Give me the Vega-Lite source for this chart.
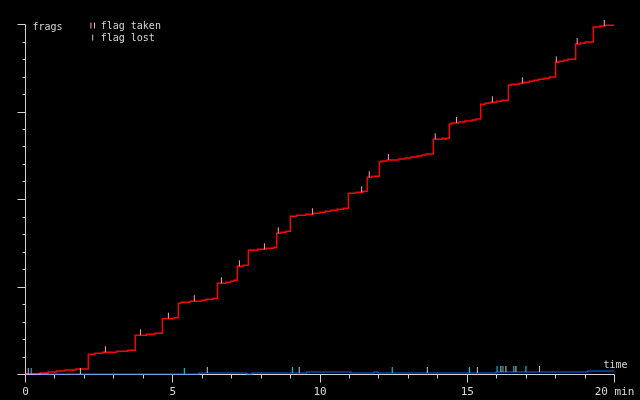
{
  "$schema": "https://vega.github.io/schema/vega-lite/v6.json",
  "width": 589,
  "height": 350,
  "autosize": {"type": "none"},
  "padding": {"left": 25, "top": 24, "right": 26, "bottom": 26},
  "background": "#000000",
  "config": {
    "view": {"stroke": null},
    "axis": {"grid": false, "domainColor": "#d0d0d0", "tickColor": "#d0d0d0", "labelColor": "#d8d8d8", "titleColor": "#d8d8d8", "labelFont": "DejaVu Sans Mono", "titleFont": "DejaVu Sans Mono", "titleFontWeight": "normal", "domainWidth": 1, "tickWidth": 1}
  },
  "datasets": {
    "red": [
      {"t": 0, "v": 0}, {"t": 0.509, "v": 1}, {"t": 0.781, "v": 2}, {"t": 1.076, "v": 3}, {"t": 1.358, "v": 4}, {"t": 1.732, "v": 5},
      {"t": 2.149, "v": 19.7}, {"t": 2.377, "v": 20.7}, {"t": 2.638, "v": 21.7}, {"t": 3.114, "v": 22.7}, {"t": 3.487, "v": 23.7},
      {"t": 3.745, "v": 38.7}, {"t": 4.132, "v": 39.7}, {"t": 4.414, "v": 40.7},
      {"t": 4.662, "v": 55.3}, {"t": 5.059, "v": 56.3},
      {"t": 5.205, "v": 70.7}, {"t": 5.297, "v": 71.7}, {"t": 5.603, "v": 72.7}, {"t": 6.0, "v": 73.7}, {"t": 6.146, "v": 74.7}, {"t": 6.394, "v": 75.7},
      {"t": 6.537, "v": 90.7}, {"t": 6.825, "v": 91.7}, {"t": 6.985, "v": 92.7}, {"t": 7.097, "v": 93.7},
      {"t": 7.209, "v": 107.7}, {"t": 7.413, "v": 108.7},
      {"t": 7.582, "v": 123.7}, {"t": 7.902, "v": 124.7}, {"t": 8.183, "v": 125.7}, {"t": 8.455, "v": 126.7},
      {"t": 8.547, "v": 140.7}, {"t": 8.693, "v": 141.7}, {"t": 8.862, "v": 142.7},
      {"t": 9.008, "v": 157.7}, {"t": 9.226, "v": 158.7}, {"t": 9.542, "v": 159.7}, {"t": 9.789, "v": 160.7}, {"t": 10.017, "v": 161.7}, {"t": 10.197, "v": 162.7}, {"t": 10.39, "v": 163.7}, {"t": 10.604, "v": 164.7}, {"t": 10.808, "v": 165.7},
      {"t": 10.978, "v": 180.7}, {"t": 11.239, "v": 181.7}, {"t": 11.477, "v": 182.7},
      {"t": 11.623, "v": 196.7}, {"t": 11.783, "v": 197.7},
      {"t": 12.031, "v": 212.3}, {"t": 12.122, "v": 213}, {"t": 12.302, "v": 214}, {"t": 12.689, "v": 215}, {"t": 12.903, "v": 216}, {"t": 13.107, "v": 217}, {"t": 13.311, "v": 218}, {"t": 13.481, "v": 219}, {"t": 13.616, "v": 220},
      {"t": 13.864, "v": 234.7}, {"t": 14.16, "v": 235.7}, {"t": 14.238, "v": 234.7}, {"t": 14.295, "v": 235.7},
      {"t": 14.407, "v": 250}, {"t": 14.499, "v": 251}, {"t": 14.737, "v": 252}, {"t": 14.941, "v": 253}, {"t": 15.178, "v": 254}, {"t": 15.314, "v": 255},
      {"t": 15.474, "v": 269.7}, {"t": 15.62, "v": 270.7}, {"t": 15.789, "v": 271.7}, {"t": 16.017, "v": 272.7}, {"t": 16.187, "v": 273.7},
      {"t": 16.411, "v": 288.7}, {"t": 16.503, "v": 289.7}, {"t": 16.774, "v": 290.7}, {"t": 16.954, "v": 291.7}, {"t": 17.124, "v": 292.7}, {"t": 17.284, "v": 293.7}, {"t": 17.43, "v": 294.7}, {"t": 17.623, "v": 295.7}, {"t": 17.803, "v": 297},
      {"t": 18.02, "v": 311.7}, {"t": 18.132, "v": 312.7}, {"t": 18.302, "v": 313.7}, {"t": 18.438, "v": 314.7},
      {"t": 18.699, "v": 330}, {"t": 18.869, "v": 331}, {"t": 19.025, "v": 332},
      {"t": 19.297, "v": 347}, {"t": 19.525, "v": 348}, {"t": 19.694, "v": 348.7}, {"t": 20, "v": 348.7}
    ],
    "blue": [
      {"t": 0, "v": 0}, {"t": 5.908, "v": 1}, {"t": 7.528, "v": 0}, {"t": 7.708, "v": 1}, {"t": 9.565, "v": 2},
      {"t": 11.07, "v": 1}, {"t": 11.851, "v": 2}, {"t": 11.986, "v": 1}, {"t": 15.993, "v": 2}, {"t": 19.107, "v": 3}, {"t": 20, "v": 3}
    ],
    "events": [
      {"t": 0.11, "v": 0, "kind": "red taken"},
      {"t": 2.73, "v": 21.7, "kind": "red taken"},
      {"t": 3.92, "v": 38.7, "kind": "red taken"},
      {"t": 4.87, "v": 55.3, "kind": "red taken"},
      {"t": 5.75, "v": 72.7, "kind": "red taken"},
      {"t": 6.67, "v": 90.7, "kind": "red taken"},
      {"t": 7.28, "v": 107.7, "kind": "red taken"},
      {"t": 8.13, "v": 124.7, "kind": "red taken"},
      {"t": 8.6, "v": 140.7, "kind": "red taken"},
      {"t": 9.76, "v": 159.7, "kind": "red taken"},
      {"t": 11.43, "v": 181.7, "kind": "red taken"},
      {"t": 11.69, "v": 196.7, "kind": "red taken"},
      {"t": 12.34, "v": 214, "kind": "red taken"},
      {"t": 13.93, "v": 234.7, "kind": "red taken"},
      {"t": 14.65, "v": 251, "kind": "red taken"},
      {"t": 15.87, "v": 271.7, "kind": "red taken"},
      {"t": 16.89, "v": 290.7, "kind": "red taken"},
      {"t": 18.04, "v": 311.7, "kind": "red taken"},
      {"t": 18.75, "v": 330, "kind": "red taken"},
      {"t": 19.67, "v": 348, "kind": "red taken"},
      {"t": 0.21, "v": 0, "kind": "blue taken"},
      {"t": 5.41, "v": 0, "kind": "blue taken"},
      {"t": 9.08, "v": 1, "kind": "blue taken"},
      {"t": 12.47, "v": 1, "kind": "blue taken"},
      {"t": 15.09, "v": 1, "kind": "blue taken"},
      {"t": 16.03, "v": 2, "kind": "blue taken"},
      {"t": 16.23, "v": 2, "kind": "blue taken"},
      {"t": 16.6, "v": 2, "kind": "blue taken"},
      {"t": 17.01, "v": 2, "kind": "blue taken"},
      {"t": 1.88, "v": 0, "kind": "flag lost"},
      {"t": 6.19, "v": 1, "kind": "flag lost"},
      {"t": 9.31, "v": 1, "kind": "flag lost"},
      {"t": 13.66, "v": 1, "kind": "flag lost"},
      {"t": 15.36, "v": 1, "kind": "flag lost"},
      {"t": 16.16, "v": 2, "kind": "flag lost"},
      {"t": 16.33, "v": 2, "kind": "flag lost"},
      {"t": 16.67, "v": 2, "kind": "flag lost"},
      {"t": 17.47, "v": 2, "kind": "flag lost"}
    ]
  },
  "encoding": {
    "x": {
      "field": "t", "type": "quantitative",
      "scale": {"domain": [0, 20], "nice": false},
      "axis": {
        "values": [0,1,2,3,4,5,6,7,8,9,10,11,12,13,14,15,16,17,18,19,20],
        "tickSize": {"condition": {"test": "datum.value % 5 === 0", "value": 8}, "value": 4},
        "labelExpr": "datum.value === 20 ? '20 min' : (datum.value % 5 === 0 ? datum.label : '')",
        "labelFontSize": 11, "labelPadding": 3, "labelFlush": false, "labelOverlap": false, "labelBaseline": "top",
        "title": "time", "titleFontSize": 10, "titleX": 602, "titleY": -7, "titleAlign": "right", "titleBaseline": "alphabetic", "titleAnchor": null
      }
    },
    "y": {
      "field": "v", "type": "quantitative",
      "scale": {"domain": [0, 350], "nice": false},
      "axis": {
        "values": [0,17.5,35,52.5,70,87.5,105,122.5,140,157.5,175,192.5,210,227.5,245,262.5,280,297.5,315,332.5,350],
        "tickSize": {"condition": {"test": "datum.value % 87.5 === 0", "value": 8}, "value": 3},
        "labels": false,
        "title": "frags", "titleFontSize": 10, "titleAngle": 0, "titleX": 7, "titleY": 5, "titleAlign": "left", "titleBaseline": "alphabetic", "titleAnchor": null
      }
    }
  },
  "layer": [
    {
      "data": {"name": "blue"},
      "mark": {"type": "line", "interpolate": "step-after", "color": "#1464ff", "strokeWidth": 1.2}
    },
    {
      "data": {"name": "red"},
      "mark": {"type": "line", "interpolate": "step-after", "color": "#ff0000", "strokeWidth": 1.4, "blend": "lighten"}
    },
    {
      "data": {"name": "events"},
      "mark": {"type": "rule", "strokeWidth": 1, "y2Offset": -6},
      "encoding": {
        "y2": {"field": "v"},
        "color": {
          "field": "kind", "type": "nominal",
          "scale": {"domain": ["red taken", "blue taken", "flag lost"], "range": ["#ff9ccc", "#00dcff", "#c8c8c8"]},
          "legend": {
            "orient": "none", "legendX": 62.7, "legendY": -3.5,
            "title": null, "values": ["red taken", "flag lost"],
            "labelExpr": "datum.value === 'red taken' ? 'flag taken' : datum.label",
            "labelFont": "DejaVu Sans Mono", "labelFontSize": 10, "labelColor": "#d8d8d8", "labelOffset": 3,
            "symbolType": "M0,-1V1", "symbolSize": 36, "symbolStrokeWidth": 1, "rowPadding": 2, "padding": 0, "offset": 0,
            "encoding": {
              "symbols": {
                "shape": {"condition": {"test": "datum.value === 'red taken'", "value": "M-0.6,-1V1M0.6,-1V1"}, "value": "M0,-1V1"},
                "stroke": {"condition": {"test": "datum.value === 'red taken'", "value": {"gradient": "linear", "x1": 0, "y1": 0, "x2": 1, "y2": 0, "stops": [{"offset": 0, "color": "#ff9ccc"}, {"offset": 0.5, "color": "#ff9ccc"}, {"offset": 0.5, "color": "#00dcff"}, {"offset": 1, "color": "#00dcff"}]}}, "value": "#c8c8c8"}
              }
            }
          }
        }
      }
    }
  ]
}
